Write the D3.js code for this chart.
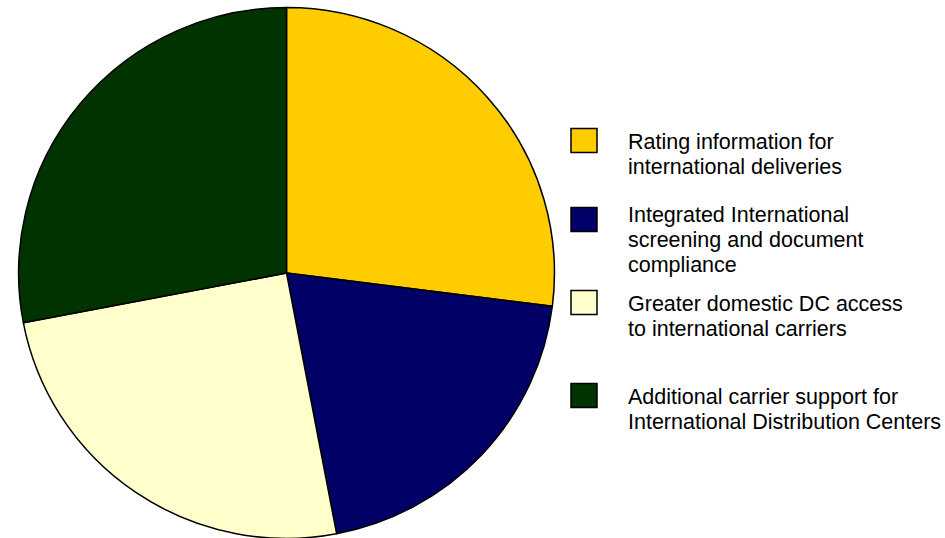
<!DOCTYPE html>
<html>
<head>
<meta charset="utf-8">
<script src="https://cdn.jsdelivr.net/npm/d3@7/dist/d3.min.js"></script>
<style>
  html, body { margin: 0; padding: 0; background: #fff; }
  svg { display: block; }
  text { font-family: "Liberation Sans", Arial, sans-serif; }
</style>
</head>
<body>
<svg id="chart" width="945" height="538"></svg>
<script>
// Data
const categories = [
  "Rating information for international deliveries",
  "Integrated International screening and document compliance",
  "Greater domestic DC access to international carriers",
  "Additional carrier support for International Distribution Centers"
];
const legendLines = [
  ["Rating information for", "international deliveries"],
  ["Integrated International", "screening and document", "compliance"],
  ["Greater domestic DC access", "to international carriers"],
  ["Additional carrier support for", "International Distribution Centers"]
];
const values = [27, 20, 25, 28];
const colors = ["#FFCC00", "#000066", "#FFFFCC", "#003300"];

// Layout
const W = 945, H = 538;
const cx = 286.5, cy = 273, rx = 268, ry = 265.5;
const legendX = 571, textX = 628, lineH = 25;
const legendTops = [128, 207, 290, 383];
const firstBaselineOffset = [21, 15, 21, 21];

const svg = d3.select("#chart");

const pie = d3.pie().sort(null).value(d => d)(values);
const arc = d3.arc().innerRadius(0).outerRadius(1);

const g = svg.append("g")
  .attr("transform", `translate(${cx},${cy}) scale(${rx},${ry})`);

g.selectAll("path")
  .data(pie)
  .join("path")
  .attr("d", arc)
  .attr("fill", (d, i) => colors[i])
  .attr("stroke", "#000")
  .attr("stroke-width", 1.5)
  .attr("vector-effect", "non-scaling-stroke")
  .attr("stroke-linejoin", "round");

const color = d3.scaleOrdinal().domain(categories).range(colors);

const leg = svg.append("g");
const items = leg.selectAll("g.item")
  .data(categories)
  .join("g")
  .attr("class", "item")
  .attr("transform", (d, i) => `translate(0,${legendTops[i]})`);

items.append("rect")
  .attr("x", legendX)
  .attr("y", 0.5)
  .attr("width", 26)
  .attr("height", 24)
  .attr("fill", d => color(d))
  .attr("stroke", "#000")
  .attr("stroke-width", 1.5);

items.each(function(d, i) {
  const t = d3.select(this).append("text")
    .attr("x", textX)
    .attr("font-size", "21.5px")
    .attr("fill", "#000");
  legendLines[i].forEach((line, j) => {
    t.append("tspan")
      .attr("x", textX)
      .attr("y", firstBaselineOffset[i] + j * lineH)
      .text(line);
  });
});
</script>
</body>
</html>
